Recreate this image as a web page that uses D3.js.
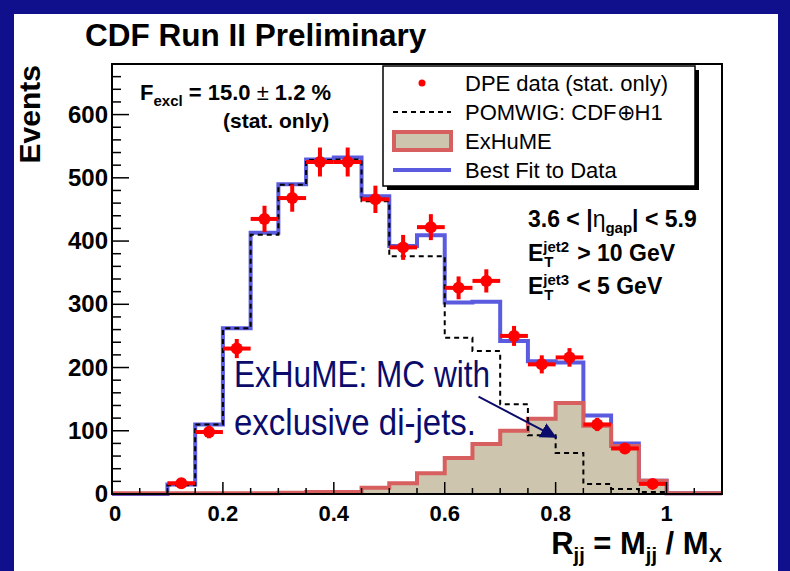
<!DOCTYPE html>
<html>
<head>
<meta charset="UTF-8">
<title>CDF Run II Preliminary - Rjj</title>
<script src="https://d3js.org/d3.v7.min.js"></script>
<style>
  body {margin:0; background:#10108c;}
  svg {display:block;}
  text {font-family:"Liberation Sans", Arial, Helvetica, sans-serif; fill:black;}
  .b {font-weight:bold;}
</style>
</head>
<body>
<div id="chart"></div>
<script>
// histogram bins: 0 .. 1.1 in steps of 0.05
var binEdges = d3.range(23).map(function(i) { return +(i * 0.05).toFixed(2); });

// ExHuME (exclusive MC), per bin
var exhume  = [1, 1, 1, 1, 1, 1, 2, 3, 3, 10, 17, 33, 57, 79, 100, 119, 144, 108, 76, 21, 1, 1];
// POMWIG: CDF+H1 (dashed)
var pomwig  = [0, 0, 14, 110, 262, 410, 489, 528, 529, 463, 376, 376, 247, 226, 142, 93, 65, 16, 8, 3, 0, 0];
// best fit to data
var bestFit = [0, 0, 15, 110, 262, 413, 490, 529, 532, 471, 392, 409, 303, 304, 242, 210, 208, 124, 80, 21, 1, 1];

// DPE data points (bin centres), errors are stat. only
var dataX = [0.125, 0.175, 0.225, 0.275, 0.325, 0.375, 0.425, 0.475, 0.525,
             0.575, 0.625, 0.675, 0.725, 0.775, 0.825, 0.875, 0.925, 0.975];
var dataY = [17, 98, 230, 435, 468, 525, 525, 466, 390, 422, 326, 337, 250, 205, 216, 110, 72, 16];

var xMajor = [0, 0.2, 0.4, 0.6, 0.8, 1];
var xLabels = ["0", "0.2", "0.4", "0.6", "0.8", "1"];
var yMajor = [0, 100, 200, 300, 400, 500, 600];

var legendItems = ["DPE data (stat. only)", "POMWIG: CDF\u2295H1", "ExHuME", "Best Fit to Data"];

var W = 790, H = 571;
var navy = "#0b0b6b";

var svg = d3.select("#chart").append("svg")
    .attr("width", W)
    .attr("height", H);

// white slide panel
svg.append("rect")
    .attr("x", 14).attr("y", 14)
    .attr("width", 764).attr("height", H)
    .attr("fill", "white");

var x = d3.scaleLinear().domain([0, 1.1]).range([112, 722]);
var y = d3.scaleLinear().domain([0, 680]).range([494, 64]);

function stepPoints(vals) {
  var p = vals.map(function(v, i) { return [binEdges[i], v]; });
  p.push([binEdges[vals.length], vals[vals.length - 1]]);
  return p;
}

var stepLine = d3.line()
    .x(function(d) { return x(d[0]); })
    .y(function(d) { return y(d[1]); })
    .curve(d3.curveStepAfter);

var stepArea = d3.area()
    .x(function(d) { return x(d[0]); })
    .y0(y(0))
    .y1(function(d) { return y(d[1]); })
    .curve(d3.curveStepAfter);

var plot = svg.append("g");

// best fit
plot.append("path")
    .attr("d", stepLine(stepPoints(bestFit)))
    .attr("fill", "none")
    .attr("stroke", "#5b5be0")
    .attr("stroke-width", 4);

// ExHuME
plot.append("path")
    .attr("d", stepArea(stepPoints(exhume)))
    .attr("fill", "#cdc5ad");
plot.append("path")
    .attr("d", stepLine(stepPoints(exhume)))
    .attr("fill", "none")
    .attr("stroke", "#d75f5f")
    .attr("stroke-width", 4);

// POMWIG dashed
plot.append("path")
    .attr("d", stepLine(stepPoints(pomwig)))
    .attr("fill", "none")
    .attr("stroke", "black")
    .attr("stroke-width", 2)
    .attr("stroke-dasharray", "5,4");

// data with error bars
var pts = plot.selectAll(".pt").data(dataX).enter().append("g").attr("class", "pt");
pts.append("line")
    .attr("x1", function(d) { return x(d - 0.025); })
    .attr("x2", function(d) { return x(d + 0.025); })
    .attr("y1", function(d, i) { return y(dataY[i]); })
    .attr("y2", function(d, i) { return y(dataY[i]); })
    .attr("stroke", "red").attr("stroke-width", 4);
pts.append("line")
    .attr("x1", function(d) { return x(d); })
    .attr("x2", function(d) { return x(d); })
    .attr("y1", function(d, i) { return y(dataY[i] + Math.sqrt(dataY[i])); })
    .attr("y2", function(d, i) { return y(Math.max(0, dataY[i] - Math.sqrt(dataY[i]))); })
    .attr("stroke", "red").attr("stroke-width", 4);
pts.append("circle")
    .attr("cx", function(d) { return x(d); })
    .attr("cy", function(d, i) { return y(dataY[i]); })
    .attr("r", 6)
    .attr("fill", "red");

// frame + ticks (inside)
var ax = svg.append("g");
ax.append("rect")
    .attr("x", x(0)).attr("y", y(680))
    .attr("width", x(1.1) - x(0)).attr("height", y(0) - y(680))
    .attr("fill", "none").attr("stroke", "black").attr("stroke-width", 2);

var xMinor = d3.range(0, 1.1001, 0.05);
ax.selectAll(".xt").data(xMinor).enter().append("line")
    .attr("x1", function(d) { return x(d); })
    .attr("x2", function(d) { return x(d); })
    .attr("y1", y(0))
    .attr("y2", function(d) { return y(0) - (Math.abs(d * 5 - Math.round(d * 5)) < 1e-6 ? 12 : 6); })
    .attr("stroke", "black").attr("stroke-width", 1.5);

var yMinor = d3.range(0, 681, 20);
ax.selectAll(".yt").data(yMinor).enter().append("line")
    .attr("x1", x(0))
    .attr("x2", function(d) { return x(0) + (d % 100 === 0 ? 17 : 9); })
    .attr("y1", function(d) { return y(d); })
    .attr("y2", function(d) { return y(d); })
    .attr("stroke", "black").attr("stroke-width", 1.5);

ax.selectAll(".xl").data(xMajor).enter().append("text")
    .attr("class", "b")
    .attr("x", function(d) { return x(d) + (d === 0 ? 3 : 0); })
    .attr("y", 521)
    .attr("text-anchor", "middle")
    .attr("font-size", 22)
    .text(function(d, i) { return xLabels[i]; });

ax.selectAll(".yl").data(yMajor).enter().append("text")
    .attr("class", "b")
    .attr("x", 108)
    .attr("y", function(d) { return y(d) + 8; })
    .attr("text-anchor", "end")
    .attr("font-size", 24)
    .text(function(d) { return d; });

// titles
svg.append("text").attr("class", "b")
    .attr("x", 85).attr("y", 46)
    .attr("font-size", 31.5)
    .text("CDF Run II Preliminary");

svg.append("text").attr("class", "b")
    .attr("transform", "translate(40,65) rotate(-90)")
    .attr("text-anchor", "end")
    .attr("font-size", 30)
    .text("Events");

var xt = svg.append("text").attr("class", "b")
    .attr("x", 722).attr("y", 554)
    .attr("text-anchor", "end")
    .attr("font-size", 31);
xt.append("tspan").text("R");
xt.append("tspan").attr("font-size", 20).attr("dy", 8).text("jj");
xt.append("tspan").attr("dy", -8).text(" = M");
xt.append("tspan").attr("font-size", 20).attr("dy", 8).text("jj");
xt.append("tspan").attr("dy", -8).text(" / M");
xt.append("tspan").attr("font-size", 20).attr("dy", 8).text("X");

// F_excl box text
var fx = svg.append("text").attr("class", "b")
    .attr("x", 140).attr("y", 100)
    .attr("font-size", 22)
    .attr("xml:space", "preserve");
fx.append("tspan").text("F");
fx.append("tspan").attr("font-size", 15).attr("dy", 6).text("excl");
fx.append("tspan").attr("dy", -6).text(" = 15.0 ");
fx.append("tspan").attr("font-weight", "normal").text("\u00b1");
fx.append("tspan").text(" 1.2 %");
svg.append("text").attr("class", "b")
    .attr("x", 223).attr("y", 128)
    .attr("font-size", 21)
    .text("(stat. only)");

// cuts
var c1 = svg.append("text").attr("class", "b")
    .attr("x", 528).attr("y", 227).attr("font-size", 23);
c1.append("tspan").text("3.6 < |");
c1.append("tspan").attr("font-weight", "normal").text("\u03b7");
c1.append("tspan").attr("font-size", 15).attr("dy", 6).text("gap");
c1.append("tspan").attr("dy", -6).text("| < 5.9");

// E_T^jetN with stacked super/subscript, one text element
function eTerm(yy, sup, rest) {
  var t = svg.append("text").attr("class", "b")
      .attr("x", 528).attr("y", yy).attr("font-size", 23);
  var e = t.append("tspan").text("E");
  var ew = e.node().getComputedTextLength();
  var s = t.append("tspan").attr("font-size", 15).attr("dy", -9).text(sup);
  var sw = s.node().getComputedTextLength();
  t.append("tspan").attr("font-size", 15).attr("x", 528 + ew + 1).attr("dy", 15).text("T");
  t.append("tspan").attr("x", 528 + ew + sw + 8).attr("dy", -6).text(rest);
}
eTerm(261, "jet2", "> 10 GeV");
eTerm(294, "jet3", "< 5 GeV");

// legend
var lg = svg.append("g");
lg.append("rect").attr("x", 387).attr("y", 70).attr("width", 312).attr("height", 120).attr("fill", "black");
lg.append("rect").attr("x", 383).attr("y", 66).attr("width", 312).attr("height", 120)
    .attr("fill", "white").attr("stroke", "black").attr("stroke-width", 1.5);

var rowY = [83, 112, 141, 170];
lg.selectAll(".lt").data(legendItems).enter().append("text")
    .attr("x", 465)
    .attr("y", function(d, i) { return rowY[i] + 8; })
    .attr("font-size", 22)
    .text(function(d) { return d; });
lg.append("circle").attr("cx", 422).attr("cy", rowY[0]).attr("r", 3.5).attr("fill", "red");
lg.append("line").attr("x1", 393).attr("x2", 451).attr("y1", rowY[1]).attr("y2", rowY[1])
    .attr("stroke", "black").attr("stroke-width", 2).attr("stroke-dasharray", "5,4");
lg.append("rect").attr("x", 394).attr("y", rowY[2] - 9).attr("width", 57).attr("height", 18)
    .attr("fill", "#cdc5ad").attr("stroke", "#d75f5f").attr("stroke-width", 4);
lg.append("line").attr("x1", 393).attr("x2", 451).attr("y1", rowY[3]).attr("y2", rowY[3])
    .attr("stroke", "#5b5be0").attr("stroke-width", 4);

// annotation (condensed face)
var an = svg.append("g");
an.append("text")
    .attr("x", 234).attr("y", 387)
    .attr("font-size", 37)
    .attr("textLength", 256)
    .attr("lengthAdjust", "spacingAndGlyphs")
    .style("fill", navy)
    .text("ExHuME: MC with");
an.append("text")
    .attr("x", 234).attr("y", 435)
    .attr("font-size", 37)
    .attr("textLength", 242)
    .attr("lengthAdjust", "spacingAndGlyphs")
    .style("fill", navy)
    .text("exclusive di-jets.");

svg.append("defs").append("marker")
    .attr("id", "head")
    .attr("viewBox", "0 0 10 10")
    .attr("refX", 10).attr("refY", 5)
    .attr("markerWidth", 8).attr("markerHeight", 8)
    .attr("markerUnits", "strokeWidth")
    .attr("orient", "auto")
  .append("path").attr("d", "M0,0 L10,5 L0,10 z").attr("fill", navy);

an.append("line")
    .attr("x1", x(0.661)).attr("y1", y(154))
    .attr("x2", x(0.802)).attr("y2", y(89))
    .attr("stroke", navy).attr("stroke-width", 2)
    .attr("marker-end", "url(#head)");
</script>
</body>
</html>
